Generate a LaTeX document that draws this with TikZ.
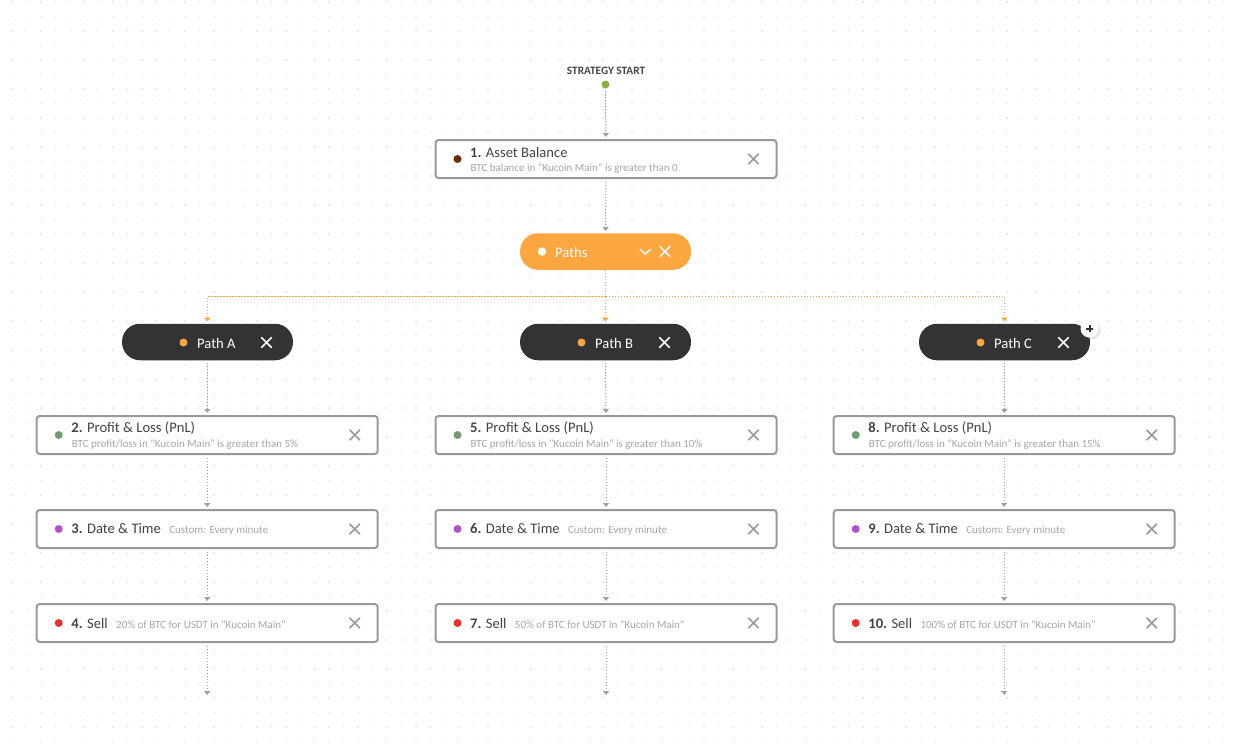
\documentclass[tikz,border=0pt]{standalone}
\usepackage{fontspec}
\setmainfont{Carlito}
\usepackage{xcolor}
\usetikzlibrary{arrows.meta}
\usetikzlibrary{positioning}
\usetikzlibrary{shadows}
\definecolor{cardline}{HTML}{999999}
\definecolor{headtext}{HTML}{444444}
\definecolor{subtext}{HTML}{A6A6A6}
\definecolor{linkgray}{HTML}{A0A0A0}
\definecolor{pathorange}{HTML}{FBA63F}
\definecolor{pilldark}{HTML}{333333}
\definecolor{griddot}{HTML}{FBE3EB}
\definecolor{startgreen}{HTML}{8EB03F}
\definecolor{balancedot}{HTML}{6B2C00}
\definecolor{pnldot}{HTML}{6F9B6F}
\definecolor{datedot}{HTML}{B44FD0}
\definecolor{selldot}{HTML}{E8302E}
\tikzset{
  card/.style={draw=cardline,line width=2pt,fill=white,rounded corners=3pt,inner sep=0pt,
    minimum width=341pt,minimum height=38pt},
  pill/.style={fill=pilldark,rounded corners=18pt,inner sep=0pt,minimum width=171pt,minimum height=36.5pt},
  dot/.style={circle,inner sep=0pt,minimum size=8pt},
  head/.style={inner sep=0pt,anchor=west,text=headtext,font=\fontsize{14.6}{15}\selectfont},
  detail/.style={inner sep=0pt,anchor=west,text=subtext,font=\fontsize{11}{11}\selectfont},
  pilltext/.style={inner sep=0pt,anchor=west,text=white,font=\fontsize{14.6}{15}\selectfont},
  closeicon/.style={inner sep=0pt,minimum size=10pt},
  cross/.style={line width=1.6pt,draw=#1},
  link/.style={draw=linkgray,line width=1pt,dash pattern=on 1.5pt off 1.5pt,shorten <=2.5pt,shorten >=2pt,
    -{Triangle[length=4pt,width=6pt,fill=linkgray]}},
  forklink/.style={draw=pathorange,line width=.8pt,dash pattern=on 1.5pt off 1.5pt,shorten >=2pt,
    -{Triangle[length=4pt,width=6pt,fill=pathorange]}}
}
\newcommand{\closemark}[3]{% name, position, colour
  \node[closeicon] (#1) at (#2) {};
  \draw[cross=#3] (#1.south west) -- (#1.north east) (#1.north west) -- (#1.south east);
}
\begin{document}
\begin{tikzpicture}[x=1pt,y=-1pt]
    \useasboundingbox (0,0) rectangle (1234,753);
    \fill[white] (0,0) rectangle (1234,753);
    % dotted canvas
    \foreach \row in {0,...,51} {
      \foreach \col in {0,...,84} {
        \fill[griddot] ({12+14.42*\col-.75},{1.8+14.5*\row-.75}) rectangle +(1.5,1.5);
      }
    }
    % start point
    \node[font=\bfseries\fontsize{11.3}{11}\selectfont,text=headtext,inner sep=0pt] (startlabel) at (606,70.5) {STRATEGY START};
    \node[dot,fill=startgreen] (start) at (605.5,84.5) {};
    % paths node
    \node[pill,fill=pathorange] (paths) at (605.5,251.5) {};
    \node[dot,fill=white,minimum size=8.5pt] (pathsdot) at (542,251.5) {};
    \node[pilltext] (pathstext) at (555,252) {Paths};
    \draw[line width=1.6pt,white!90!pathorange] (640,249) -- (645,254) -- (651,249);
    \closemark{pathsx}{665,251.5}{white}
    % three branches
    \foreach \id/\cx/\name in {pa/207.5/Path A,pb/605.5/Path B,pc/1004.5/Path C} {
      \node[pill] (\id) at (\cx,342) {};
      \node[dot,fill=pathorange] (\id dot) at (\cx-24,342.5) {};
      \node[pilltext] (\id text) at (\cx-10.5,343) {\name};
      \closemark{\id x}{\cx+59,342.5}{white}
    }
    \node[circle,fill=white,inner sep=0pt,minimum size=18pt,circular drop shadow={shadow scale=1.08,opacity=.2}] (plus) at (1089.5,328.5) {};
    \draw[line width=2pt,pilldark] (1086,328.5) -- (1093,328.5) (1089.5,325) -- (1089.5,332);
    % two line cards
    \foreach \id/\cx/\cy/\dotc/\num/\title/\info in {
      s1/606/159/balancedot/1./Asset Balance/{BTC balance in "Kucoin Main" is greater than 0},
      s2/207.2/435/pnldot/2./Profit \& Loss (PnL)/{BTC profit/loss in "Kucoin Main" is greater than 5\%},
      s5/606/435/pnldot/5./Profit \& Loss (PnL)/{BTC profit/loss in "Kucoin Main" is greater than 10\%},
      s8/1004.2/435/pnldot/8./Profit \& Loss (PnL)/{BTC profit/loss in "Kucoin Main" is greater than 15\%}} {
      \node[card] (\id) at (\cx,\cy) {};
      \node[dot,fill=\dotc] (\id dot) at (\cx-148.5,\cy) {};
      \node[head] (\id head) at (\cx-136,\cy-6.5) {\textbf{\num} \title};
      \node[detail] (\id info) at (\cx-135.5,\cy+10) {\info};
      \closemark{\id x}{\cx+147.5,\cy}{cardline}
    }
    % one line cards
    \foreach \id/\cx/\cy/\dotc/\num/\title/\info in {
      s3/207.2/529/datedot/3./Date \& Time/Custom: Every minute,
      s4/207.2/623/selldot/4./Sell/20\% of BTC for USDT in "Kucoin Main",
      s6/606/529/datedot/6./Date \& Time/Custom: Every minute,
      s7/606/623/selldot/7./Sell/50\% of BTC for USDT in "Kucoin Main",
      s9/1004.2/529/datedot/9./Date \& Time/Custom: Every minute,
      s10/1004.2/623/selldot/10./Sell/100\% of BTC for USDT in "Kucoin Main"} {
      \node[card] (\id) at (\cx,\cy) {};
      \node[dot,fill=\dotc] (\id dot) at (\cx-148.5,\cy) {};
      \node[head] (\id head) at (\cx-136,\cy) {\textbf{\num} \title};
      \node[detail,right=8pt of \id head,yshift=-1.2pt] (\id info) {\info};
      \closemark{\id x}{\cx+147.5,\cy}{cardline}
    }
    % free ends under the last cards
    \coordinate (enda) at (207.2,697);
    \coordinate (endb) at (606,697);
    \coordinate (endc) at (1004.2,697);
    \coordinate (fork) at (605.5,296.5);
    % connectors
    \foreach \from/\to in {start/s1,s1/paths,pa/s2,s2/s3,s3/s4,s4/enda,pb/s5,s5/s6,s6/s7,s7/endb,pc/s8,s8/s9,s9/s10,s10/endc} {
      \draw[link] (\from) -- (\to);
    }
    \draw[forklink,shorten <=0pt] (paths) -- (pb);
    \draw[forklink] (fork) -| (pa);
    \draw[forklink] (fork) -| (pc);
\end{tikzpicture}
\end{document}
